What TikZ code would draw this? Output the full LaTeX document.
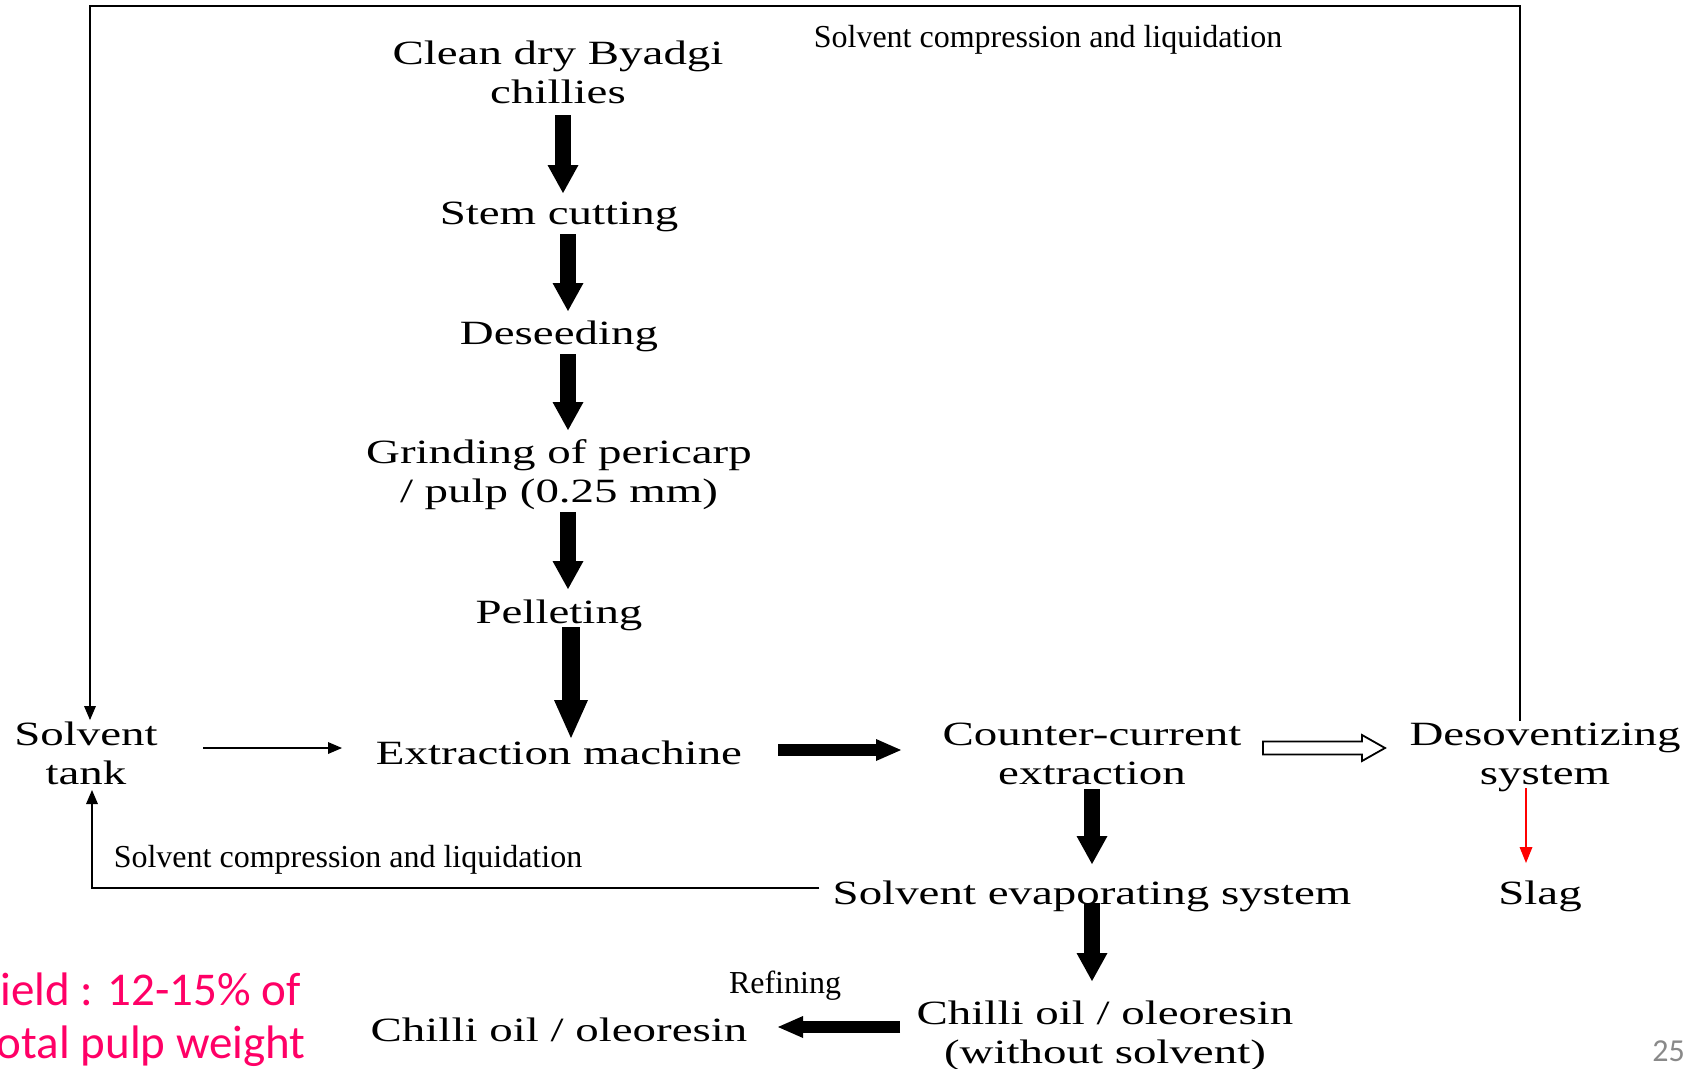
\documentclass[tikz,border=0pt]{standalone}
\usepackage{fontspec}
\usetikzlibrary{arrows.meta}
\newfontfamily\mainwide[FakeStretch=1.38]{Liberation Serif}
\newfontfamily\noteserif{Liberation Serif}
\newfontfamily\calib{Carlito}
\definecolor{yieldpink}{RGB}{255,0,102}
\definecolor{pagegray}{RGB}{137,137,137}
\tikzset{
  lbl/.style={font=\mainwide\fontsize{34}{39}\selectfont, align=center, anchor=base, inner sep=0pt},
  note/.style={font=\noteserif\fontsize{32}{38}\selectfont, anchor=base, inner sep=0pt},
  thinarrow/.style={line width=2pt, -{Triangle[length=14pt,width=12pt,line width=0pt]}},
  redarrow/.style={red, line width=2pt, -{Triangle[length=16pt,width=13pt,line width=0pt]}},
  vblock/.style={line width=16pt, -{Triangle[length=28pt,width=31pt,line width=0pt]}},
  bigblock/.style={line width=18pt, -{Triangle[length=38pt,width=34pt,line width=0pt]}},
  hblock/.style={line width=12pt, -{Triangle[length=25pt,width=22pt,line width=0pt]}},
  openblock/.style={line width=1.8pt, fill=white, line join=miter},
}
\begin{document}
\begin{tikzpicture}[x=1pt,y=-1pt]
\fill[white] (0,0) rectangle (1694,1068);
\useasboundingbox (0,0) rectangle (1694,1068);

% process labels (base anchor = baseline of the last line)
\node[lbl] (clean)   at (558,103)  {Clean dry Byadgi\\chillies};
\node[lbl] (stem)    at (559,224)  {Stem cutting};
\node[lbl] (deseed)  at (559,344)  {Deseeding};
\node[lbl] (grind)   at (559,502)  {Grinding of pericarp\\/ pulp (0.25 mm)};
\node[lbl] (pellet)  at (559,623)  {Pelleting};
\node[lbl] (ext)     at (559,764)  {Extraction machine};
\node[lbl] (tank)    at (86,784)   {Solvent\\tank};
\node[lbl] (counter) at (1092,784) {Counter-current\\extraction};
\node[lbl] (deso)    at (1545,784) {Desoventizing\\system};
\node[lbl] (evap)    at (1092,904) {Solvent evaporating system};
\node[lbl] (slag)    at (1540,904) {Slag};
\node[lbl] (oil1)    at (1105,1063) {Chilli oil / oleoresin\\(without solvent)};
\node[lbl] (oil2)    at (559,1041) {Chilli oil / oleoresin};

% small notes
\node[note] (topnote) at (1048,47) {Solvent compression and liquidation};
\node[note] (botnote) at (348,867) {Solvent compression and liquidation};
\node[note] (refine)  at (785,993) {Refining};

% yield text and page number
\node[font=\calib\fontsize{47}{55}\selectfont, text=yieldpink, anchor=base east, inner sep=0pt] (yield1) at (301,1005) {ield : 12-15\% of};
\node[font=\calib\fontsize{47}{55}\selectfont, text=yieldpink, anchor=base east, inner sep=0pt] (yield2) at (306,1058) {otal pulp weight};
\node[font=\calib\fontsize{32}{38}\selectfont, text=pagegray, anchor=base east, inner sep=0pt] (pagenum) at (1685,1061) {25};

% vertical block arrows
\draw[vblock] ([shift={(5,12)}]clean.base) -- ([shift={(4,-31)}]stem.base);
\draw[vblock] ([shift={(9,10)}]stem.base) -- ([shift={(9,-33)}]deseed.base);
\draw[vblock] ([shift={(9,10)}]deseed.base) -- ([shift={(9,-72)}]grind.base);
\draw[vblock] ([shift={(9,10)}]grind.base) -- ([shift={(9,-34)}]pellet.base);
\draw[bigblock] ([shift={(12,4)}]pellet.base) -- ([shift={(12,-26)}]ext.base);
\draw[vblock] ([shift={(0,5)}]counter.base) -- ([shift={(0,-40)}]evap.base);
\draw[vblock] ([shift={(0,-1)}]evap.base) -- ([shift={(-13,-82)}]oil1.base);

% horizontal block arrows
\draw[hblock] ([shift={(219,-14)}]ext.base) -- ([shift={(-191,-34)}]counter.base);
\draw[hblock] ([shift={(-205,-36)}]oil1.base) -- ([shift={(219,-14)}]oil2.base);

% open arrow counter-current -> desolventizing
\draw[openblock] ([shift={(171,-36)}]counter.base) -- ++(0,-6.5) -- ++(99,0) -- ++(0,-6.5)
  -- ++(23,13) -- ++(-23,13) -- ++(0,-6.5) -- ++(-99,0) -- cycle;

% thin connectors
\draw[thinarrow] ([shift={(117,-36)}]tank.base) -- ([shift={(-217,-16)}]ext.base);
\draw[redarrow] ([shift={(-19,4)}]deso.base) -- ([shift={(-14,-41)}]slag.base);
\draw[thinarrow] ([shift={(-25,-63)}]deso.base) -- ++(0,-715.3) -| ([shift={(4,-64)}]tank.base);
\draw[thinarrow] ([shift={(-13,-16)}]evap.base west) -| ([shift={(6,6)}]tank.base);
\end{tikzpicture}
\end{document}
